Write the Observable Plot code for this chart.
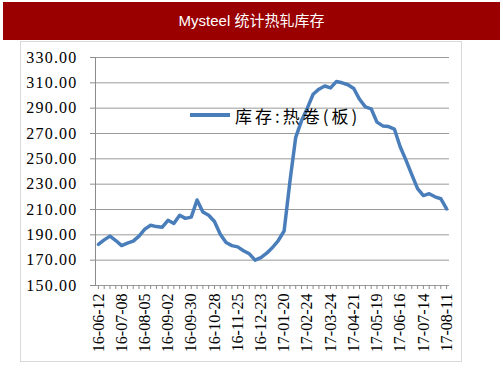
<!DOCTYPE html>
<html>
<head>
<meta charset="utf-8">
<script src="https://cdn.jsdelivr.net/npm/d3@7"></script>
<script src="https://cdn.jsdelivr.net/npm/@observablehq/plot@0.6"></script>
<style>
  html, body { margin: 0; padding: 0; background: #fff; }
  #page { position: relative; width: 503px; height: 378px; overflow: hidden; }
  #titlebar { position: absolute; left: 3px; top: 2px; width: 497px; height: 38px; background: #9a0000;
    color: #fff; font-family: "Liberation Sans", "Noto Sans CJK SC", sans-serif; font-size: 15px;
    line-height: 38px; text-align: center; }
  #panel { position: absolute; left: 20px; top: 41px; width: 440px; height: 319px; border: 1px solid #d9d9d9; }
  #chart { position: absolute; left: 0; top: 41px; }
  #chart svg text { font-family: "Liberation Serif", "Times New Roman", serif !important; }
  #chart svg g.yax text { letter-spacing: 1.2px; }
  #legend { position: absolute; left: 190px; top: 104px; height: 22px; display: flex; align-items: center;
    font-family: "Noto Sans CJK SC", sans-serif; font-size: 17px; letter-spacing: 3px; color: #000; }
  #legend .sw { width: 40px; height: 4px; background: #4a7ebb; margin-right: 5px; }
</style>
</head>
<body>
<div id="page">
  <div id="titlebar">Mysteel 统计热轧库存</div>
  <div id="panel"></div>
  <div id="chart"></div>
  <div id="legend"><div class="sw"></div><span>库存:热卷(板)</span></div>
</div>
<script>
const dates = [
  "16-06-12","16-06-17","16-06-24","16-07-01","16-07-08","16-07-15","16-07-22","16-07-29",
  "16-08-05","16-08-12","16-08-19","16-08-26","16-09-02","16-09-09","16-09-16","16-09-23",
  "16-09-30","16-10-07","16-10-14","16-10-21","16-10-28","16-11-04","16-11-11","16-11-18",
  "16-11-25","16-12-02","16-12-09","16-12-16","16-12-23","16-12-30","17-01-06","17-01-13",
  "17-01-20","17-02-03","17-02-10","17-02-17","17-02-24","17-03-03","17-03-10","17-03-17",
  "17-03-24","17-03-31","17-04-07","17-04-14","17-04-21","17-04-28","17-05-05","17-05-12",
  "17-05-19","17-05-26","17-06-02","17-06-09","17-06-16","17-06-23","17-06-30","17-07-07",
  "17-07-14","17-07-21","17-07-28","17-08-04","17-08-11"
];
const values = [
  182.5, 186, 189, 185.5, 181.5, 183.5, 185, 189,
  194.5, 197.5, 196.5, 196, 201.5, 199, 205.5, 203,
  204, 217.5, 208, 205.5, 200.5, 190.5, 184, 181.5,
  180.5, 177.5, 175, 170, 172, 175.5, 180, 185.5,
  193, 232, 267, 280, 290, 301, 305, 307.5,
  306, 311, 310, 308.5, 305.5, 297, 291, 289.5,
  279, 276, 275.5, 273.5, 259.5, 249, 237.5, 226.5,
  221, 222.5, 220, 218.5, 210.5
];
const labelDates = [
  "16-06-12","16-07-08","16-08-05","16-09-02","16-09-30","16-10-28","16-11-25","16-12-23",
  "17-01-20","17-02-24","17-03-24","17-04-21","17-05-19","17-06-16","17-07-14","17-08-11"
];
const yTicks = [150, 170, 190, 210, 230, 250, 270, 290, 310, 330];

const serif = "'Liberation Serif', 'Times New Roman', serif";
const axisColor = "#8c8c8c";
const chart = Plot.plot({
  width: 503,
  height: 337,
  marginTop: 16,
  marginBottom: 93,
  marginLeft: 95,
  marginRight: 54,
  style: { fontFamily: serif, fontSize: "16px", color: "#000", background: "transparent" },
  x: { type: "point", domain: dates, padding: 0.5, label: null },
  y: { domain: [150, 330], label: null },
  marks: [
    Plot.gridY(yTicks, { stroke: "#9a9a9a", strokeOpacity: 1 }),
    Plot.frame({ anchor: "left", stroke: axisColor }),
    Plot.axisY(yTicks, { tickFormat: d3.format(".2f"), tickSize: 5, tickPadding: 13, stroke: axisColor, label: null, fontSize: 16, fontFamily: serif }),
    Plot.axisX(dates, { tickFormat: () => "", tickSize: 4, stroke: axisColor, label: null }),
    Plot.axisX(labelDates, { tickRotate: -90, tickSize: 0, tickPadding: 8, label: null, fontSize: 16, fontFamily: serif }),
    Plot.lineY(values, { x: (d, i) => dates[i], y: d => d, stroke: "#4a7ebb", strokeWidth: 3.5, strokeLinejoin: "round" })
  ]
});
chart.querySelectorAll("g[aria-label='y-axis tick label']").forEach(g => g.classList.add("yax"));
document.getElementById("chart").appendChild(chart);
</script>
</body>
</html>
